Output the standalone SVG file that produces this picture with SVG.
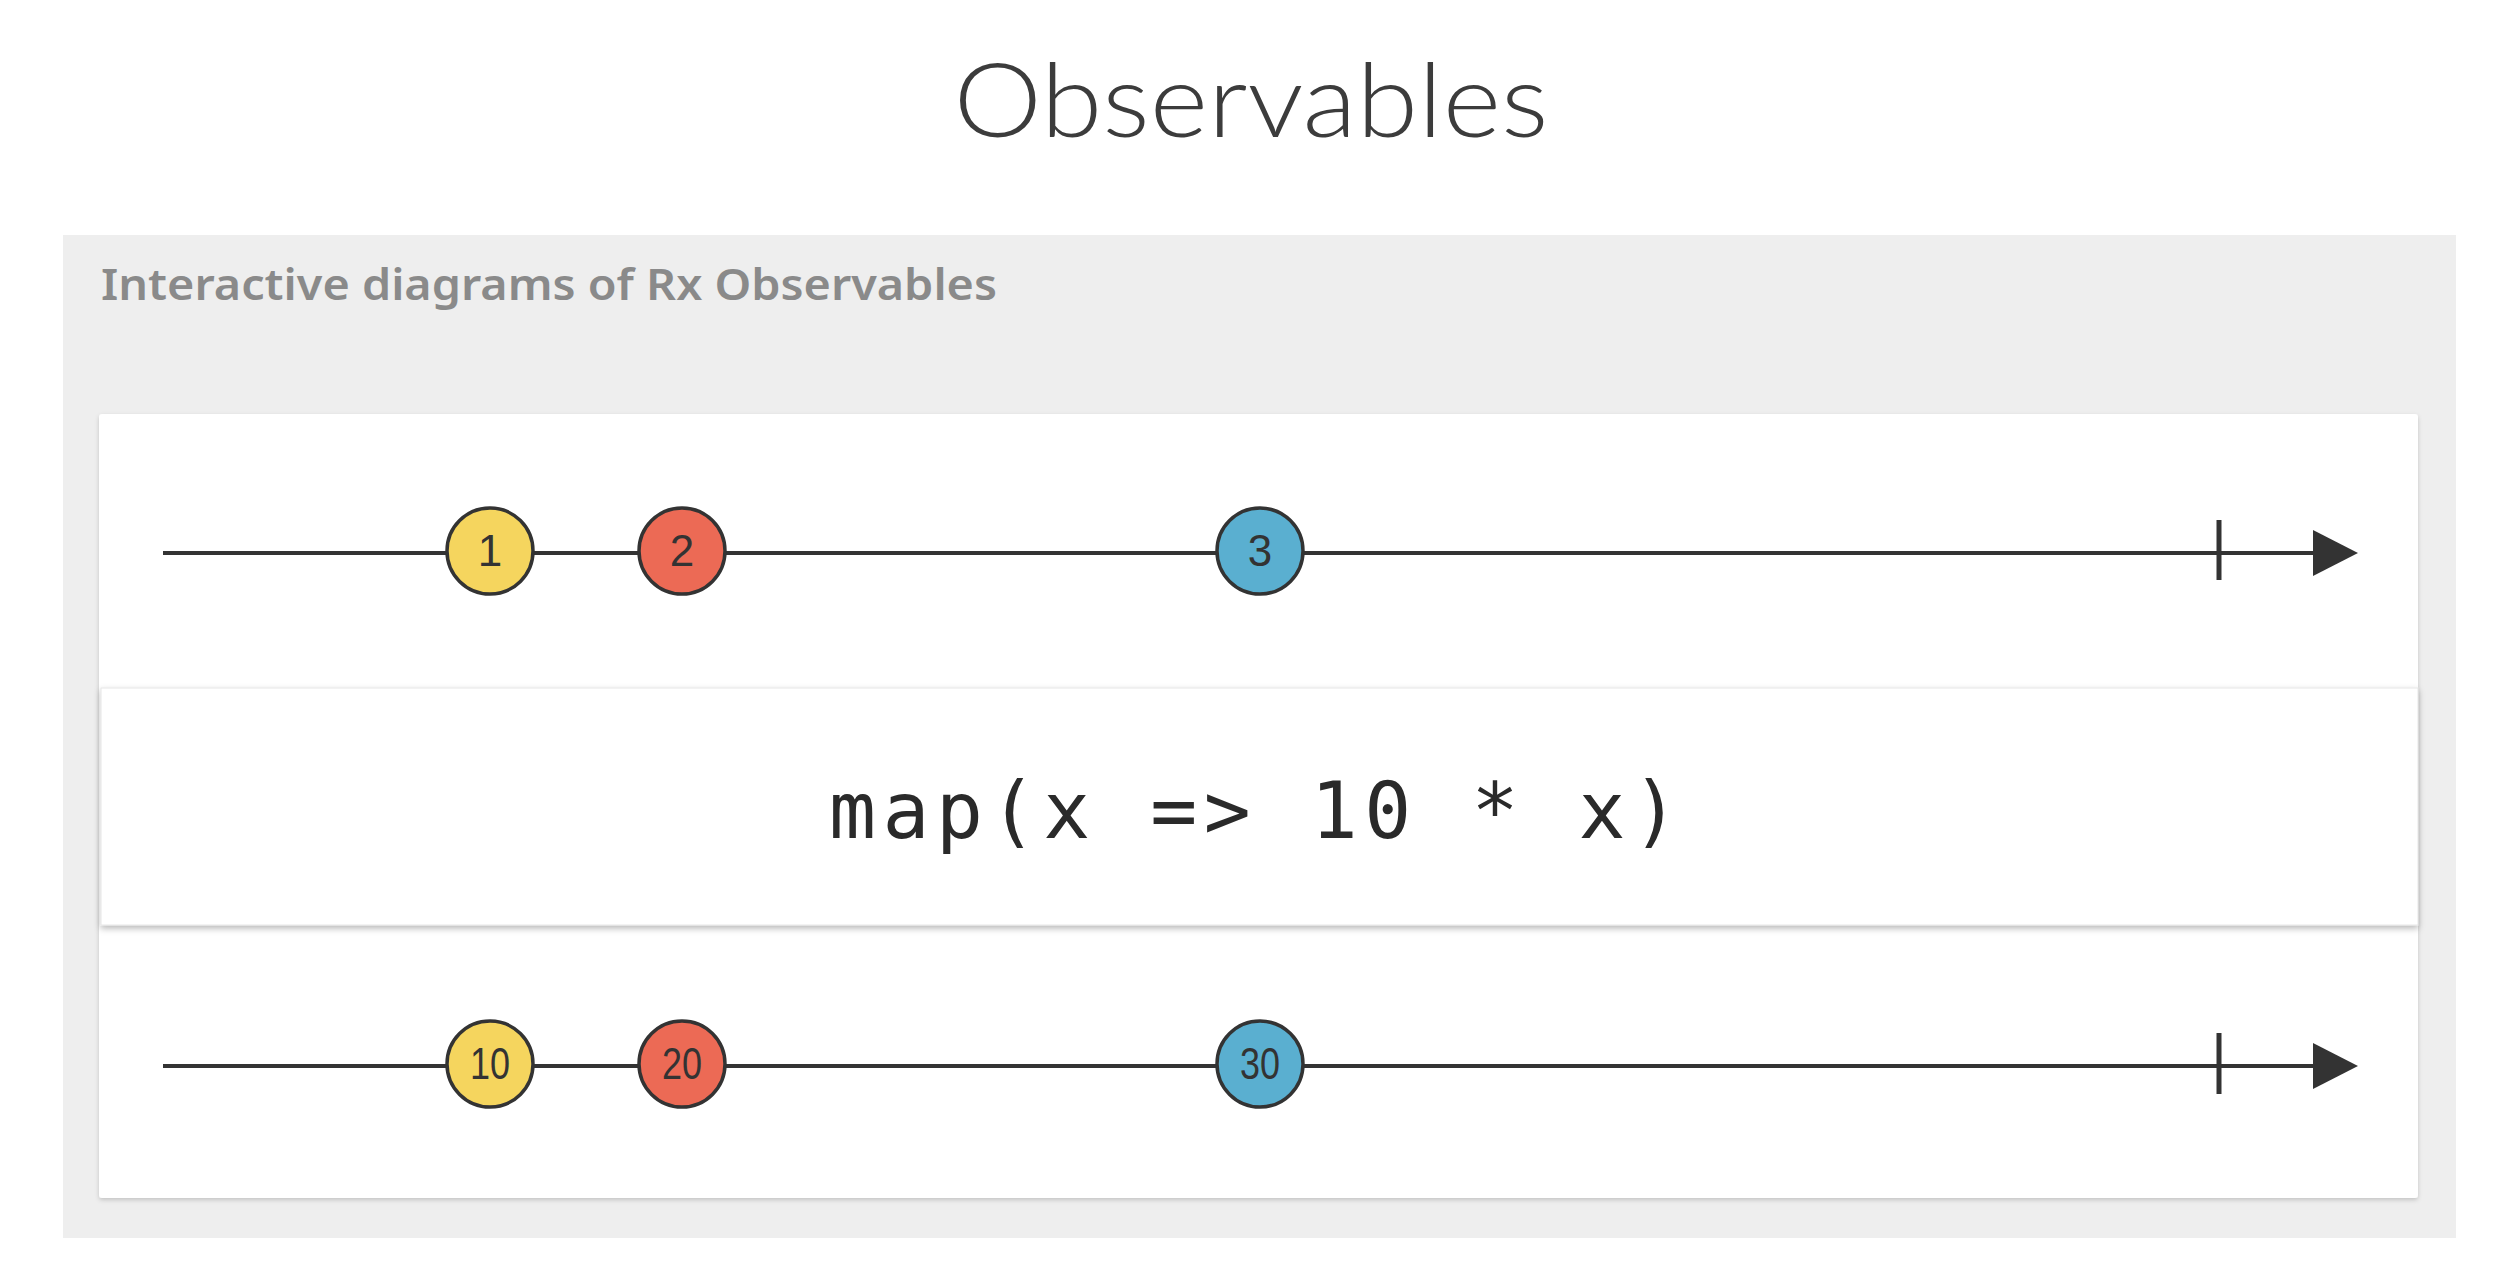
<svg xmlns="http://www.w3.org/2000/svg" width="2510" height="1268" viewBox="0 0 2510 1268">
<style>
.title{font-family:Lato,"Open Sans","Liberation Sans",sans-serif;font-weight:300;font-size:102px;fill:#3c3c3c}
.sub{font-family:"Noto Sans","Open Sans","Liberation Sans",sans-serif;font-weight:600;font-size:44px;fill:#8a8a8a}
.tl{stroke:#333;stroke-width:4;fill:none}
.tick{stroke:#333;stroke-width:5}
.m{stroke:#333;stroke-width:3.5}
.y{fill:#f5d55e}
.r{fill:#ec6a55}
.b{fill:#5aafd0}
.num{font-family:"Liberation Sans","DejaVu Sans",sans-serif;font-size:44px;fill:#333;text-anchor:middle}
.code{font-family:"DejaVu Sans Mono","Liberation Mono",monospace;font-size:78px;fill:#2a2a2a}
</style>
<defs>
<filter id="cardShadow" x="-5%" y="-5%" width="110%" height="110%">
<feDropShadow dx="0" dy="2" stdDeviation="2" flood-color="#000" flood-opacity="0.18"/>
</filter>
<filter id="opShadow" x="-5%" y="-20%" width="110%" height="140%">
<feDropShadow dx="0" dy="3" stdDeviation="3" flood-color="#000" flood-opacity="0.28"/>
</filter>
<marker id="arrow" viewBox="0 0 45 46" refX="0" refY="23" markerWidth="45" markerHeight="46" markerUnits="userSpaceOnUse" orient="auto">
<path d="M0,0 L45,23 L0,46 Z" fill="#333"/>
</marker>
</defs>
<rect width="2510" height="1268" fill="#ffffff"/>
<text id="title" class="title" x="1251" y="137" text-anchor="middle" textLength="595" lengthAdjust="spacingAndGlyphs">Observables</text>
<g id="panel">
<rect x="63" y="235" width="2393" height="1003" fill="#eeeeee"/>
<text class="sub" x="101" y="300" textLength="896" lengthAdjust="spacingAndGlyphs">Interactive diagrams of Rx Observables</text>
</g>
<g id="card">
<rect x="99" y="414" width="2319" height="784" rx="3" fill="#ffffff" filter="url(#cardShadow)"/>
</g>
<g id="connectors">
<line class="tl" x1="163" y1="553" x2="2313" y2="553" marker-end="url(#arrow)"/>
<line class="tick" x1="2219" y1="520" x2="2219" y2="580"/>
<line class="tl" x1="163" y1="1066" x2="2313" y2="1066" marker-end="url(#arrow)"/>
<line class="tick" x1="2219" y1="1033" x2="2219" y2="1094"/>
</g>
<g id="operator">
<rect x="101" y="688" width="2317" height="237" fill="#ffffff" stroke="#e6e6e6" stroke-width="1" filter="url(#opShadow)"/>
<text class="code" x="1254" y="838" text-anchor="middle" textLength="850" lengthAdjust="spacing">map(x =&gt; 10 * x)</text>
</g>
<g id="in1"><circle class="m y" cx="490" cy="551" r="43"/><text class="num" x="490" y="566">1</text></g>
<g id="in2"><circle class="m r" cx="682" cy="551" r="43"/><text class="num" x="682" y="566">2</text></g>
<g id="in3"><circle class="m b" cx="1260" cy="551" r="43"/><text class="num" x="1260" y="566">3</text></g>
<g id="out10"><circle class="m y" cx="490" cy="1064" r="43"/><text class="num" x="490" y="1079" textLength="40" lengthAdjust="spacingAndGlyphs">10</text></g>
<g id="out20"><circle class="m r" cx="682" cy="1064" r="43"/><text class="num" x="682" y="1079" textLength="40" lengthAdjust="spacingAndGlyphs">20</text></g>
<g id="out30"><circle class="m b" cx="1260" cy="1064" r="43"/><text class="num" x="1260" y="1079" textLength="40" lengthAdjust="spacingAndGlyphs">30</text></g>
</svg>
